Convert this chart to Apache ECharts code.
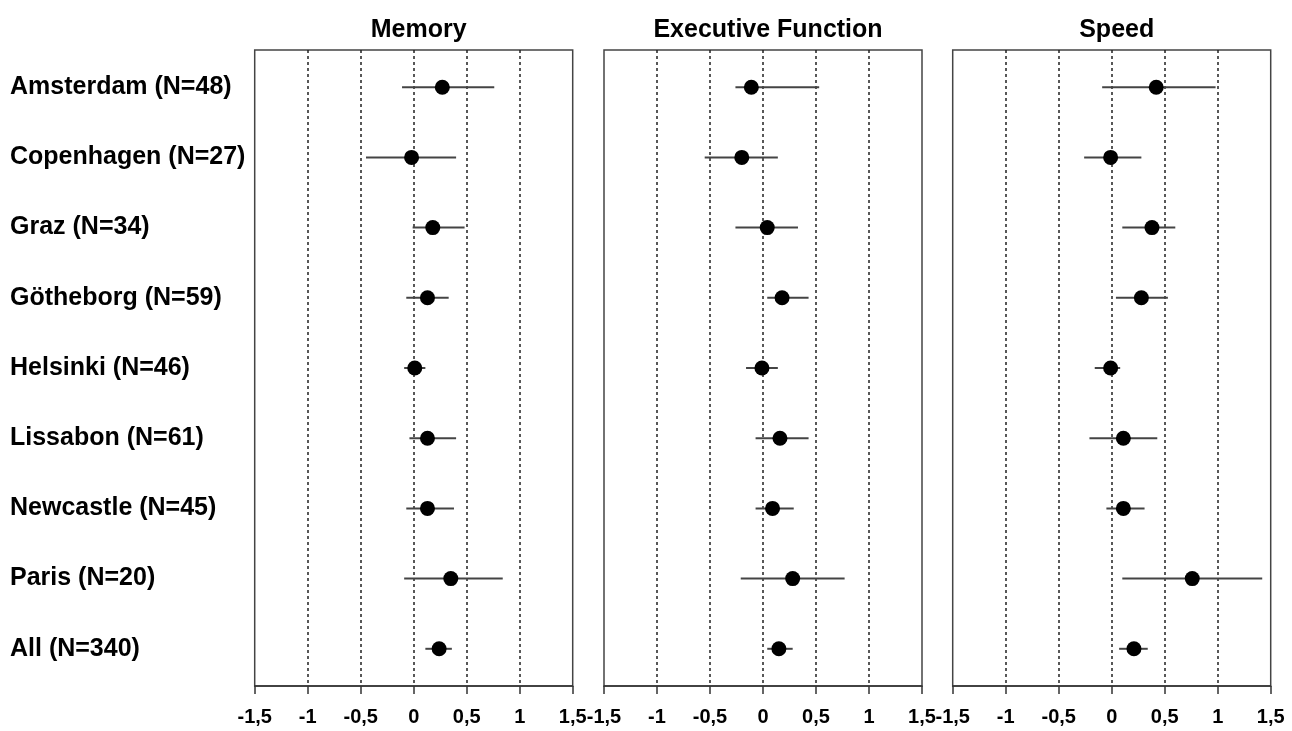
<!DOCTYPE html>
<html>
<head>
<meta charset="utf-8">
<script src="https://cdn.jsdelivr.net/npm/echarts@6/dist/echarts.min.js"></script>
<style>
html,body{margin:0;padding:0;background:#fff;}
#chart{width:1292px;height:731px;}
</style>
</head>
<body>
<div id="chart"></div>
<script>
const categories = ['Amsterdam (N=48)','Copenhagen (N=27)','Graz (N=34)','Götheborg (N=59)','Helsinki (N=46)','Lissabon (N=61)','Newcastle (N=45)','Paris (N=20)','All (N=340)'];
const panelTitles = ['Memory','Executive Function','Speed'];
const xTicks = [-1.5,-1,-0.5,0,0.5,1,1.5];

const memoryMean = [0.27,-0.02,0.18,0.13,0.01,0.13,0.13,0.35,0.24];
const memoryLow  = [-0.11,-0.45,-0.01,-0.07,-0.09,-0.04,-0.07,-0.09,0.11];
const memoryHigh = [0.76,0.40,0.48,0.33,0.11,0.40,0.38,0.84,0.36];

const execMean = [-0.11,-0.20,0.04,0.18,-0.01,0.16,0.09,0.28,0.15];
const execLow  = [-0.26,-0.55,-0.26,0.04,-0.16,-0.07,-0.07,-0.21,0.04];
const execHigh = [0.53,0.14,0.33,0.43,0.14,0.43,0.29,0.77,0.28];

const speedMean = [0.42,-0.01,0.38,0.28,-0.01,0.11,0.11,0.76,0.21];
const speedLow  = [-0.09,-0.26,0.10,0.04,-0.16,-0.21,-0.05,0.10,0.07];
const speedHigh = [0.98,0.28,0.60,0.53,0.08,0.43,0.31,1.42,0.34];

const panels = [
  {mean: memoryMean, low: memoryLow, high: memoryHigh},
  {mean: execMean, low: execLow, high: execHigh},
  {mean: speedMean, low: speedLow, high: speedHigh}
];

const FONT = '"Liberation Sans", Arial, sans-serif';
const gridLefts = [254.7, 604, 952.7];
const gridWidth = 318;
const gridTop = 50, gridHeight = 636;

const chart = echarts.init(document.getElementById('chart'), null, {renderer:'canvas'});

const grids = [], xAxes = [], yAxes = [], series = [], titles = [];
panels.forEach((p, i) => {
  grids.push({left: gridLefts[i], top: gridTop, width: gridWidth, height: gridHeight,
    show: true, borderColor: '#444', borderWidth: 1.5, backgroundColor: '#fff', z: 0});
  xAxes.push({
    gridIndex: i, type: 'value', min: xTicks[0], max: xTicks[xTicks.length - 1], interval: 0.5,
    axisLine: {show: true, onZero: false, lineStyle: {color: '#333', width: 1.5}},
    axisTick: {show: true, length: 8, inside: false, lineStyle: {color: '#333', width: 1.5}},
    axisLabel: {show: true, margin: 21, color: '#000', fontFamily: FONT, fontWeight: 'bold', fontSize: 20,
      showMinLabel: true, showMaxLabel: true,
      formatter: v => String(v).replace('.', ',')},
    splitLine: {show: true, showMinLine: false, showMaxLine: false,
      lineStyle: {color: '#222', width: 1.5, type: [3, 3]}}
  });
  yAxes.push({
    gridIndex: i, type: 'value', min: 0.47, max: 9.53, inverse: true,
    axisLine: {show: false}, axisTick: {show: false}, splitLine: {show: false},
    axisLabel: i === 0 ? {
      show: true, customValues: categories.map((c, k) => k + 1),
      formatter: v => categories[Math.round(v) - 1] || '',
      align: 'left', margin: gridLefts[0] - 10, color: '#000',
      fontFamily: FONT, fontWeight: 'bold', fontSize: 25
    } : {show: false}
  });
  titles.push({text: panelTitles[i], left: gridLefts[i] + gridWidth / 2, top: 13, textAlign: 'center',
    textStyle: {fontFamily: FONT, fontWeight: 'bold', fontSize: 25, color: '#000'}});
  series.push({
    type: 'custom', xAxisIndex: i, yAxisIndex: i, z: 3,
    data: categories.map((c, k) => [p.low[k], p.high[k], k + 1]),
    renderItem: (params, api) => {
      const a = api.coord([api.value(0), api.value(2)]);
      const b = api.coord([api.value(1), api.value(2)]);
      return {type: 'line', shape: {x1: a[0], y1: a[1], x2: b[0], y2: b[1]},
        style: {stroke: '#444', lineWidth: 2}};
    },
    silent: true, animation: false
  });
  series.push({
    type: 'scatter', xAxisIndex: i, yAxisIndex: i, z: 4,
    data: categories.map((c, k) => [p.mean[k], k + 1]),
    symbol: 'circle', symbolSize: 15,
    itemStyle: {color: '#000', opacity: 1}, silent: true, animation: false
  });
});

chart.setOption({
  backgroundColor: '#fff',
  animation: false,
  title: titles,
  grid: grids,
  xAxis: xAxes,
  yAxis: yAxes,
  series: series
});
</script>
</body>
</html>
